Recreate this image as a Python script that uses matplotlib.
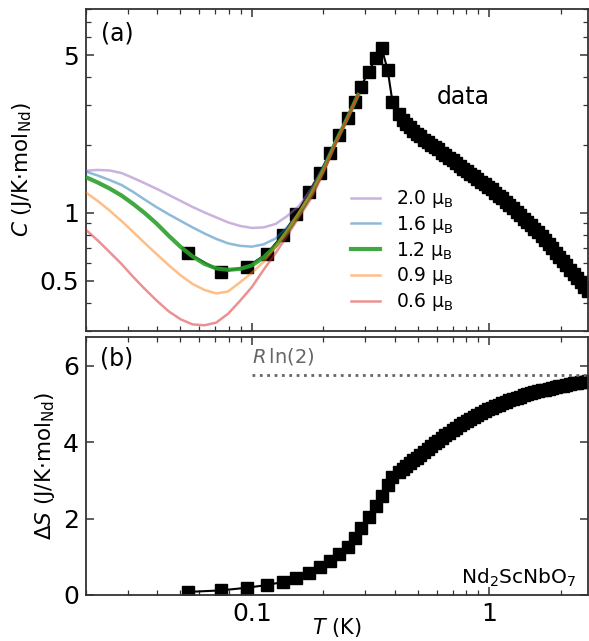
import matplotlib
matplotlib.use("Agg")
import matplotlib.pyplot as plt
from matplotlib.ticker import FixedLocator, NullFormatter, LogLocator

T_data = [0.0538, 0.0741, 0.0953, 0.1156, 0.135, 0.154, 0.174, 0.193, 0.213,
          0.232, 0.253, 0.271, 0.287, 0.310, 0.332, 0.352, 0.373, 0.391,
          0.417, 0.432, 0.447, 0.462, 0.479, 0.495, 0.513, 0.531, 0.550,
          0.569, 0.589, 0.610, 0.631, 0.653, 0.676, 0.700, 0.724, 0.750,
          0.776, 0.804, 0.832, 0.861, 0.891, 0.923, 0.955, 0.989, 1.023,
          1.059, 1.096, 1.135, 1.175, 1.216, 1.259, 1.303, 1.349, 1.396,
          1.445, 1.496, 1.549, 1.603, 1.660, 1.718, 1.778, 1.841, 1.905,
          1.972, 2.042, 2.113, 2.188, 2.265, 2.344, 2.427, 2.512, 2.600]
C_data = [0.665, 0.548, 0.577, 0.659, 0.80, 0.99, 1.24, 1.50, 1.84,
          2.21, 2.63, 3.10, 3.61, 4.21, 4.85, 5.37, 4.30, 3.10,
          2.74, 2.59, 2.48, 2.39, 2.31, 2.24, 2.18, 2.11, 2.06,
          2.00, 1.95, 1.91, 1.85, 1.80, 1.75, 1.71, 1.66, 1.61,
          1.57, 1.53, 1.48, 1.45, 1.41, 1.37, 1.34, 1.30, 1.27,
          1.23, 1.19, 1.16, 1.12, 1.08, 1.05, 1.01, 0.977, 0.944,
          0.914, 0.883, 0.851, 0.820, 0.789, 0.757, 0.726, 0.697, 0.667,
          0.640, 0.614, 0.587, 0.560, 0.537, 0.514, 0.493, 0.472, 0.452]
S_data = [0.08, 0.12, 0.19, 0.26, 0.34, 0.45, 0.58, 0.74, 0.89,
          1.08, 1.26, 1.50, 1.76, 2.03, 2.32, 2.58, 2.87, 3.08,
          3.22, 3.295, 3.37, 3.445, 3.52, 3.595, 3.67, 3.745, 3.82,
          3.895, 3.97, 4.04, 4.11, 4.18, 4.245, 4.31, 4.38, 4.44,
          4.50, 4.56, 4.61, 4.66, 4.715, 4.765, 4.81, 4.855, 4.90,
          4.94, 4.98, 5.02, 5.055, 5.09, 5.13, 5.16, 5.19, 5.22,
          5.25, 5.28, 5.305, 5.33, 5.35, 5.37, 5.39, 5.415, 5.44,
          5.46, 5.48, 5.50, 5.52, 5.535, 5.55, 5.565, 5.58, 5.60]

# model curves for different ordered moments
T_model = [0.0200, 0.0224, 0.0251, 0.0282, 0.0316, 0.0355, 0.0398, 0.0447,
           0.0501, 0.0562, 0.0631, 0.0708, 0.0794, 0.0891, 0.100, 0.112,
           0.126, 0.141, 0.158, 0.178, 0.200, 0.224, 0.251, 0.280]
C_20 = [1.539, 1.550, 1.542, 1.503, 1.428, 1.351, 1.277, 1.201,
        1.130, 1.063, 1.005, 0.955, 0.908, 0.876, 0.858, 0.863,
        0.894, 0.970, 1.074, 1.280, 1.60, 2.06, 2.62, 3.33]
C_16 = [1.523, 1.465, 1.400, 1.330, 1.239, 1.142, 1.058, 0.985,
        0.922, 0.863, 0.811, 0.767, 0.733, 0.715, 0.709, 0.726,
        0.771, 0.867, 0.990, 1.210, 1.57, 2.04, 2.60, 3.33]
C_12 = [1.439, 1.364, 1.284, 1.195, 1.096, 0.995, 0.894, 0.791,
        0.707, 0.642, 0.595, 0.568, 0.560, 0.565, 0.586, 0.635,
        0.715, 0.828, 0.990, 1.214, 1.55, 2.03, 2.60, 3.33]
C_09 = [1.230, 1.130, 1.026, 0.922, 0.824, 0.733, 0.655, 0.586,
        0.529, 0.485, 0.456, 0.440, 0.449, 0.493, 0.543, 0.607,
        0.707, 0.841, 1.010, 1.226, 1.54, 2.02, 2.59, 3.33]
C_06 = [0.841, 0.756, 0.672, 0.595, 0.521, 0.459, 0.408, 0.366,
        0.338, 0.321, 0.318, 0.327, 0.358, 0.408, 0.470, 0.560,
        0.665, 0.795, 0.960, 1.165, 1.50, 2.00, 2.58, 3.33]
moments = ["2.0", "1.6", "1.2", "0.9", "0.6"]

R_LN2 = 5.763

plt.rcParams.update({
    "font.family": "DejaVu Sans",
    "axes.edgecolor": "#333333",
    "axes.linewidth": 1.3,
    "xtick.color": "#333333",
    "ytick.color": "#333333",
    "xtick.labelcolor": "black",
    "ytick.labelcolor": "black",
})

fig = plt.figure(figsize=(5.89, 6.41), dpi=100)
ax1 = fig.add_axes([0.146, 0.4836, 0.852, 0.5024])
ax2 = fig.add_axes([0.146, 0.0718, 0.852, 0.4025], sharex=ax1)

# (a) heat capacity
ax1.plot(T_data, C_data, "s-", color="k", ms=8.5, lw=1.5, zorder=2)
styles = [
    (C_20, "tab:purple", 1.8, 0.5),
    (C_16, "tab:blue", 1.8, 0.5),
    (C_12, "tab:green", 3.0, 0.9),
    (C_09, "tab:orange", 1.8, 0.5),
    (C_06, "tab:red", 1.8, 0.5),
]
for m, (c, col, lw, a) in zip(moments, styles):
    ax1.plot(T_model, c, color=col, lw=lw, alpha=a, zorder=3,
             label=m + r" μ$_\mathrm{B}$")

ax1.set_xscale("log")
ax1.set_yscale("log")
ax1.set_xlim(0.02, 2.6)
ax1.set_ylim(0.3, 8)
ax1.yaxis.set_major_locator(FixedLocator([0.5, 1, 5]))
ax1.yaxis.set_minor_locator(FixedLocator([0.3, 0.4, 0.6, 0.7, 0.8, 0.9,
                                          2, 3, 4, 6, 7, 8]))
ax1.set_yticklabels(["0.5", "1", "5"])
ax1.yaxis.set_minor_formatter(NullFormatter())
ax1.set_ylabel(r"$C$ (J/K$\cdot$mol$_\mathrm{Nd}$)", fontsize=15.5, labelpad=4)
ax1.tick_params(labelbottom=False)
ax1.text(0.062, 0.925, "(a)", transform=ax1.transAxes, fontsize=17,
         ha="center", va="center")
ax1.text(0.752, 0.727, "data", transform=ax1.transAxes, fontsize=17,
         ha="center", va="center")
ax1.legend(loc="upper left", bbox_to_anchor=(0.514, 0.467), frameon=False,
           fontsize=13.5, handlelength=1.5, handletextpad=0.9,
           labelspacing=0.2, borderaxespad=0)

# (b) entropy
ax2.plot(T_data, S_data, "s-", color="k", ms=8.5, lw=1.5, zorder=2)
ax2.plot([0.1, 2.6], [R_LN2, R_LN2], ":", color="#666666", lw=2)
ax2.text(0.1, 5.97, r"$R\,\ln(2)$", color="#666666", fontsize=14,
         ha="left", va="bottom")
ax2.set_ylim(0, 6.75)
ax2.set_yticks([0, 2, 4, 6])
ax2.set_xticks([0.1, 1])
ax2.set_xticklabels(["0.1", "1"])
ax2.xaxis.set_minor_locator(LogLocator(base=10, subs=range(2, 10)))
ax2.xaxis.set_minor_formatter(NullFormatter())
ax2.set_xlabel(r"$T$ (K)", fontsize=15, labelpad=-7)
ax2.set_ylabel(r"$\Delta S$ (J/K$\cdot$mol$_\mathrm{Nd}$)", fontsize=15.5,
               labelpad=4)
ax2.text(0.062, 0.915, "(b)", transform=ax2.transAxes, fontsize=17,
         ha="center", va="center")
ax2.text(0.976, 0.045, r"Nd$_2$ScNbO$_7$", transform=ax2.transAxes,
         fontsize=14.5, ha="right", va="baseline")

for ax in (ax1, ax2):
    ax.tick_params(which="both", direction="in", top=True, right=True)
    ax.tick_params(which="major", length=6, width=1.1, labelsize=18, pad=5)
    ax.tick_params(which="minor", length=3.5, width=0.9)

fig.savefig("out.png", dpi=100)
